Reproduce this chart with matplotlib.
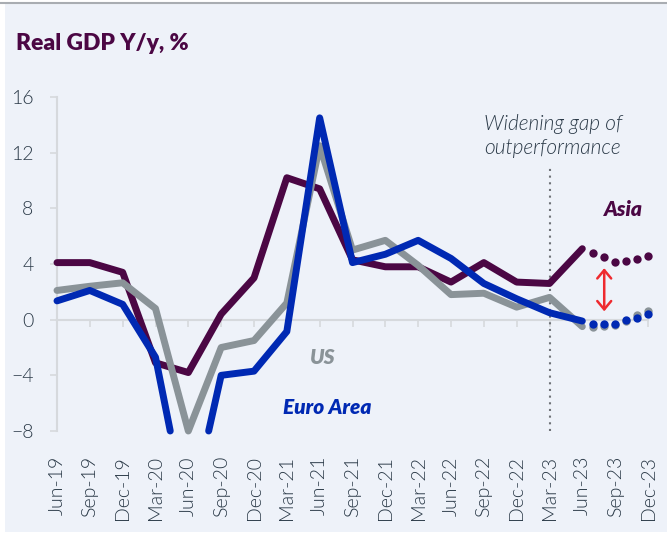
import matplotlib

matplotlib.use("Agg")
import matplotlib.pyplot as plt
import numpy as np
from matplotlib.patches import Rectangle
from matplotlib.lines import Line2D

# quarterly history, Jun-19 .. Jun-23
QUARTERS = ["Jun-19", "Sep-19", "Dec-19", "Mar-20", "Jun-20", "Sep-20", "Dec-20",
            "Mar-21", "Jun-21", "Sep-21", "Dec-21", "Mar-22", "Jun-22", "Sep-22",
            "Dec-22", "Mar-23", "Jun-23", "Sep-23", "Dec-23"]
asia = [4.1, 4.1, 3.4, -3.1, -3.8, 0.4, 3.0, 10.2, 9.4, 4.3, 3.8, 3.8, 2.7, 4.1, 2.7, 2.6, 5.1]
us = [2.1, 2.4, 2.65, 0.8, -8.0, -2.0, -1.5, 1.2, 12.5, 5.0, 5.7, 3.9, 1.8, 1.9, 0.9, 1.6, -0.5]
euro = [1.35, 2.1, 1.1, -2.7, -14.5, -4.0, -3.7, -0.85, 14.5, 4.1, 4.7, 5.7, 4.4, 2.6, 1.5, 0.5, -0.1]

# monthly forecasts, Jul-23 .. Dec-23
asia_f = [4.8, 4.5, 4.15, 4.2, 4.35, 4.55]
us_f = [-0.5, -0.45, -0.4, -0.1, 0.3, 0.65]
euro_f = [-0.3, -0.3, -0.3, -0.05, 0.15, 0.4]

PURPLE = "#4B0744"
GRAY = "#8A9398"
BLUE = "#0029B3"
TXT = "#2B3A48"
BG = "#EEF2F9"
YMIN, YMAX = -8, 16
LIGHT = 300


def floor_clip(x, y, floor):
    """Cut the line where it goes below floor, ending it on the floor."""
    xs, ys = [], []
    for i in range(len(x)):
        if i > 0 and (y[i - 1] < floor) != (y[i] < floor):
            t = (floor - y[i - 1]) / (y[i] - y[i - 1])
            xs.append(x[i - 1] + t * (x[i] - x[i - 1]))
            ys.append(floor)
            if y[i] < floor:
                xs.append(np.nan)
                ys.append(np.nan)
        if y[i] >= floor:
            xs.append(x[i])
            ys.append(y[i])
    return np.array(xs), np.array(ys)


fig = plt.figure(figsize=(6.67, 5.35), dpi=100)
fig.patch.set_facecolor("white")
fig.patches.append(Rectangle((5 / 667, 3 / 535), 662 / 667, 528 / 535,
                             transform=fig.transFigure, facecolor=BG, edgecolor="none", zorder=-10))
fig.lines.append(Line2D([0, 1], [1 - 3 / 535, 1 - 3 / 535], transform=fig.transFigure,
                        color="#A9ADB2", lw=1.5))

ax = fig.add_axes([57 / 667, 1 - 431 / 535, 591 / 667, 334 / 535])
ax.set_facecolor("none")

qx = np.arange(len(QUARTERS)) * 3
hx = qx[:len(asia)]
fx = np.arange(1, len(asia_f) + 1) + hx[-1]

lw = 5
for vals, fvals, col, z in [(asia, asia_f, PURPLE, 3), (us, us_f, GRAY, 4), (euro, euro_f, BLUE, 5)]:
    xs, ys = floor_clip(hx, np.array(vals, dtype=float), YMIN)
    ax.plot(xs, ys, color=col, lw=lw, solid_capstyle="round", solid_joinstyle="round",
            clip_on=False, zorder=z)
    ax.plot(fx, fvals, "o", color=col, ms=6, mec="none", clip_on=False, zorder=z)

ax.set_xlim(qx[0], qx[-1])
ax.set_ylim(YMIN, YMAX)
ax.set_yticks(np.arange(-8, 17, 4))
ax.set_xticks(qx)
ax.tick_params(axis="x", length=5, width=1.2, color="#D6D9DD", labelbottom=False)
ax.tick_params(axis="y", length=5, width=1.2, color="#D6D9DD", labelsize=14,
               labelcolor=TXT, pad=12)
for lab in ax.get_yticklabels():
    lab.set_fontfamily("Lato")
    lab.set_fontweight(LIGHT)
for s in ["top", "right"]:
    ax.spines[s].set_visible(False)
ax.spines["bottom"].set_position(("data", 0))
ax.spines["bottom"].set_color("#D6D9DD")
ax.spines["bottom"].set_linewidth(1.5)
ax.spines["left"].set_color("#D6D9DD")
ax.spines["left"].set_linewidth(1.5)

sec = ax.secondary_xaxis(0)
sec.set_xticks(qx)
sec.set_xticklabels(QUARTERS, rotation=90, fontsize=14, color=TXT,
                    fontfamily="Lato", fontweight=LIGHT)
sec.tick_params(length=0, pad=18)
sec.spines["bottom"].set_visible(False)

# forecast divider
mar23 = qx[QUARTERS.index("Mar-23")]
ax.vlines(mar23, YMIN, 10.9, colors="#6F7378", linestyles=(0, (1, 2.2)), lw=1.5, zorder=2)
ax.text(mar23 + 0.3, 13.2, "Widening gap of\noutperformance", ha="center", va="center",
        fontsize=15, color=TXT, style="italic", fontfamily="Lato", fontweight=LIGHT,
        linespacing=1.2)

ax.annotate("", xy=(fx[1], 3.7), xytext=(fx[1], 0.6),
            arrowprops=dict(arrowstyle="<->,head_width=0.5,head_length=0.6",
                            color="#EE2A2F", lw=1.8, shrinkA=0, shrinkB=0))

lab_kw = dict(fontsize=15, fontweight="heavy", style="italic", fontfamily="Lato",
              ha="center", va="center")
ax.text(51.8, 7.9, "Asia", color=PURPLE, **lab_kw)
ax.text(24.3, -2.7, "US", color=GRAY, **lab_kw)
ax.text(24.7, -6.3, "Euro Area", color=BLUE, **lab_kw)

fig.text(16 / 667, 1 - 49.5 / 535, "Real GDP Y/y, %", fontsize=16.5, fontweight="heavy",
         color=PURPLE, fontfamily="Lato", ha="left", va="baseline")

fig.savefig("out.png", dpi=100, facecolor=fig.get_facecolor())
